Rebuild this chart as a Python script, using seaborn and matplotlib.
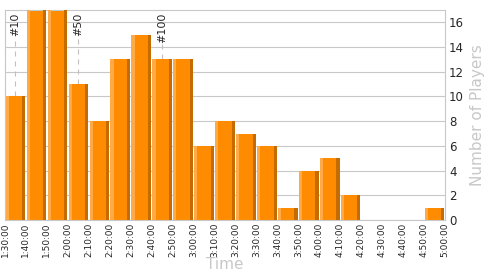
import matplotlib
matplotlib.use("Agg")
import matplotlib.pyplot as plt
import seaborn as sns
import numpy as np
import pandas as pd

bin_labels = ["1:30:00","1:40:00","1:50:00","2:00:00","2:10:00","2:20:00","2:30:00",
              "2:40:00","2:50:00","3:00:00","3:10:00","3:20:00","3:30:00","3:40:00",
              "3:50:00","4:00:00","4:10:00","4:20:00","4:30:00","4:40:00","4:50:00","5:00:00"]
counts = [10, 17, 17, 11, 8, 13, 15, 13, 13, 6, 8, 7, 6, 1, 4, 5, 2, 0, 0, 0, 1]
marker_labels = ["#10", "#50", "#100"]
marker_bins = [0, 3, 7]

sns.set_theme(style="white")
plt.rcParams['font.family'] = ['DejaVu Sans']

fig = plt.figure(figsize=(5, 2.75), dpi=100)
ax = fig.add_axes([0.01, 0.2, 0.88, 0.7636])

W = 0.93
S = 0.15
df = pd.DataFrame({"bin": bin_labels[:-1], "count": counts})
sns.barplot(data=df, x="bin", y="count", color="#FF8C00", saturation=1,
            width=W, linewidth=0, ax=ax, zorder=2)
xs = np.arange(len(counts))
ax.bar(xs - W / 2 + S / 2, counts, width=S, color="#FFAA48", zorder=3, linewidth=0)
ax.bar(xs + W / 2 - S / 2, counts, width=S, color="#C46C00", zorder=3, linewidth=0)

ax.set_xlim(-0.5, len(counts) - 0.5)
ax.set_ylim(0, 17)
ax.set_xticks(np.arange(len(bin_labels)) - 0.5)
ax.set_xticklabels(bin_labels, rotation=90, fontsize=6.5)
ax.yaxis.tick_right()
ax.yaxis.set_label_position("right")
ax.set_yticks(range(0, 17, 2))
ax.tick_params(axis='y', labelsize=8.5, length=0, pad=3)
ax.tick_params(axis='x', length=0, pad=2)
ax.grid(axis='y', color="#c8c8c8", linewidth=0.8, zorder=0)
ax.set_axisbelow(True)
for s in ax.spines.values():
    s.set_color("#c8c8c8")
    s.set_linewidth(0.8)

ax.set_xlabel("Time", color="#c8c8c8", fontsize=11, labelpad=0)
ax.set_ylabel("Number of Players", color="#c8c8c8", fontsize=11, labelpad=4)

for lab, b in zip(marker_labels, marker_bins):
    ax.text(b, 16.8, lab, rotation=90, ha='center', va='top', fontsize=8, zorder=5)
    top = 16.8 - 0.45 * len(lab) - 0.4
    ax.plot([b, b], [counts[b], top], ls=(0, (4.5, 4.5)), color="#c0c0c0", lw=0.8, zorder=1)

fig.savefig("out.png", dpi=100)
